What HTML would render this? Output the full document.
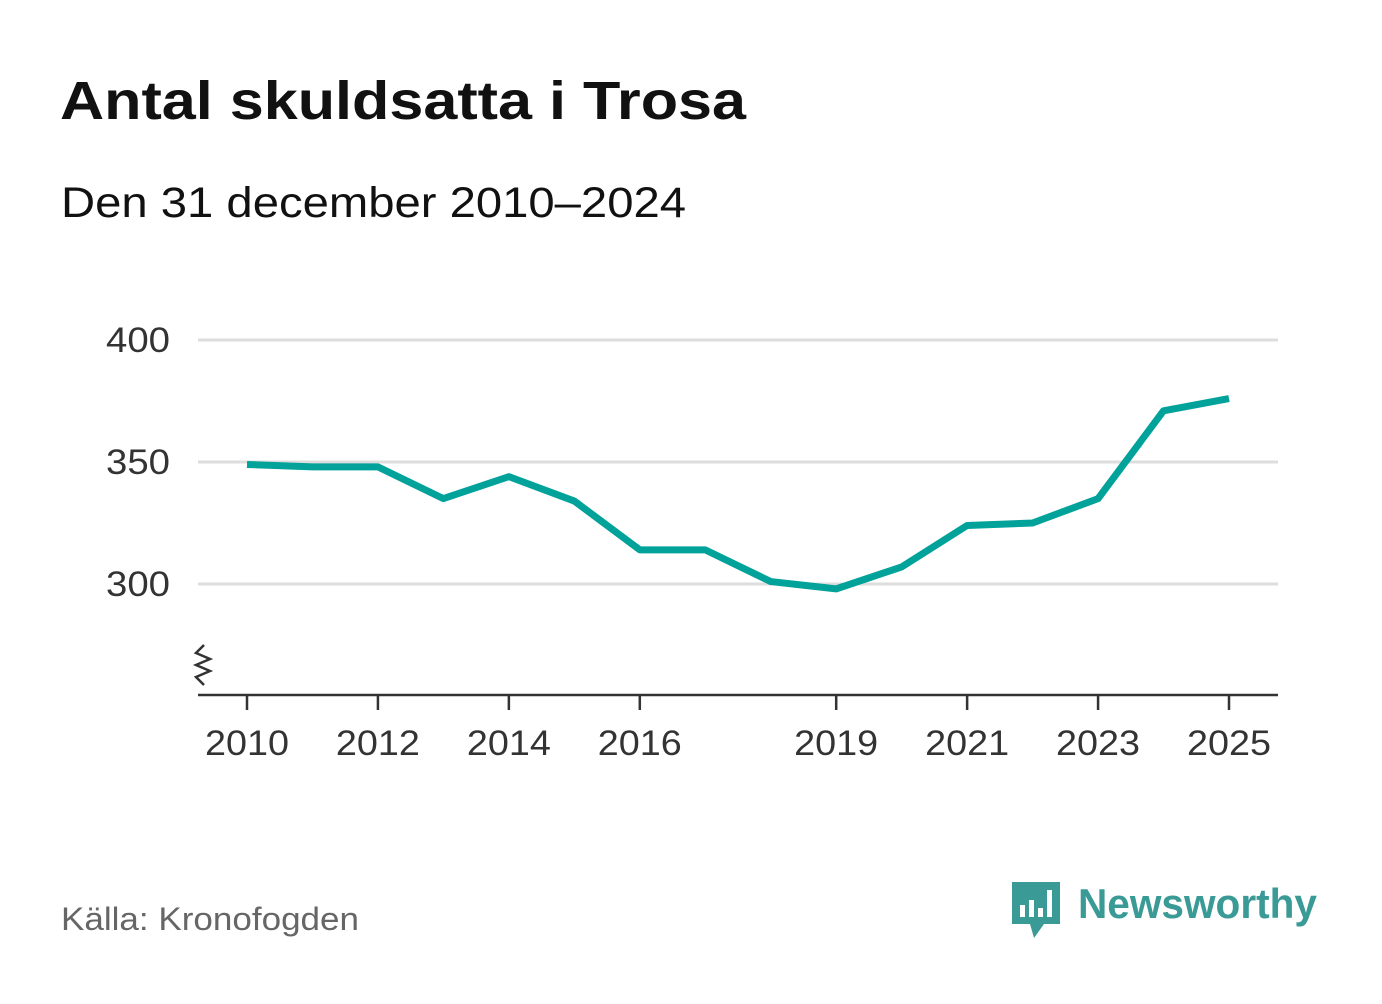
<!DOCTYPE html>
<html><head><meta charset="utf-8"><style>
body{margin:0;background:#fff;width:1382px;height:999px;overflow:hidden;font-family:"Liberation Sans",sans-serif}
</style></head><body>
<svg width="1382" height="999" viewBox="0 0 1382 999">
<text x="60" y="119" font-size="54" font-weight="bold" fill="#111" textLength="686" lengthAdjust="spacingAndGlyphs">Antal skuldsatta i Trosa</text>
<text x="61" y="217" font-size="43" fill="#111" textLength="625" lengthAdjust="spacingAndGlyphs">Den 31 december 2010–2024</text>
<g id="grid"></g>
<g id="xaxis"></g>
<path d="M204 645 l-8 8 l14 6 l-14 6 l14 6 l-14 6 l8 8" fill="none" stroke="#333" stroke-width="2.5"/>
<line x1="198" y1="695" x2="1278" y2="695" stroke="#333" stroke-width="2.5"/>
<path id="line" fill="none" stroke="#00a29a" stroke-width="7" stroke-linejoin="round"/>
<text x="61" y="930" font-size="32" fill="#666" textLength="298" lengthAdjust="spacingAndGlyphs">Källa: Kronofogden</text>
<g>
<path d="M1012 882 h48 v42 h-16 l-10 14 l-4 -14 h-18 z" fill="#3a9a96"/>
<rect x="1020" y="905" width="5" height="12" fill="#fff"/><rect x="1029" y="900" width="5" height="17" fill="#fff"/><rect x="1038" y="908" width="5" height="9" fill="#fff"/><rect x="1047" y="890" width="5" height="27" fill="#fff"/>
<text x="1078" y="918" font-size="42" font-weight="bold" fill="#3a9a96" textLength="239" lengthAdjust="spacingAndGlyphs">Newsworthy</text>
</g>
</svg>
<script>
const years=[2010,2011,2012,2013,2014,2015,2016,2017,2018,2019,2020,2021,2022,2023,2024,2025];
const values=[349,348,348,335,344,334,314,314,301,298,307,324,325,335,371,376];
const yTicks=[300,350,400];
const xTicks=[2010,2012,2014,2016,2019,2021,2023,2025];
const ns="http://www.w3.org/2000/svg";
const X=y=>247+(y-2010)*(1229-247)/15;
const Y=v=>584-(v-300)*2.44;
const grid=document.getElementById('grid');
yTicks.forEach(t=>{
 const l=document.createElementNS(ns,'line');
 l.setAttribute('x1',198);l.setAttribute('x2',1278);l.setAttribute('y1',Y(t));l.setAttribute('y2',Y(t));
 l.setAttribute('stroke','#ddd');l.setAttribute('stroke-width',3);
 
 
 grid.appendChild(l);
 const tx=document.createElementNS(ns,'text');
 tx.setAttribute('x',170);tx.setAttribute('y',Y(t)+12);tx.setAttribute('text-anchor','end');
 tx.setAttribute('font-size',35);tx.setAttribute('fill','#333');tx.textContent=t;
 tx.setAttribute('textLength',64);tx.setAttribute('lengthAdjust','spacingAndGlyphs');
 
 
 grid.appendChild(tx);
});
const xa=document.getElementById('xaxis');
xTicks.forEach(t=>{
 const l=document.createElementNS(ns,'line');
 l.setAttribute('x1',X(t));l.setAttribute('x2',X(t));l.setAttribute('y1',695);l.setAttribute('y2',710);
 l.setAttribute('stroke','#333');l.setAttribute('stroke-width',2.5);
 
 
 xa.appendChild(l);
 const tx=document.createElementNS(ns,'text');
 tx.setAttribute('x',X(t));tx.setAttribute('y',755);tx.setAttribute('text-anchor','middle');
 tx.setAttribute('font-size',35);tx.setAttribute('fill','#333');tx.textContent=t;
 tx.setAttribute('textLength',84);tx.setAttribute('lengthAdjust','spacingAndGlyphs');
 
 
 xa.appendChild(tx);
});
document.getElementById('line').setAttribute('d',years.map((y,i)=>(i?'L':'M')+X(y)+' '+Y(values[i])).join(' '));
</script>
</body></html>
